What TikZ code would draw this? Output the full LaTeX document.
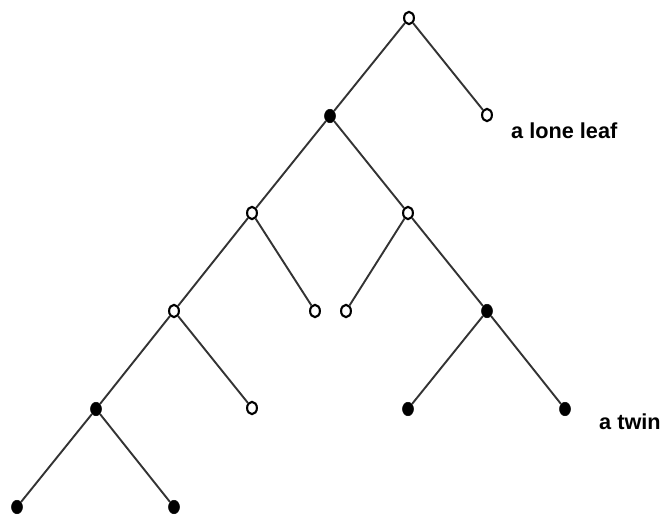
\documentclass[tikz,border=0pt]{standalone}
\usepackage{fontspec}
\setmainfont{Liberation Sans}
\usetikzlibrary{shapes.geometric}
\tikzset{
  open/.style={ellipse, draw=black, fill=white, line width=2.1pt, minimum width=9.8pt, minimum height=12.3pt, inner sep=0pt},
  full/.style={ellipse, draw=black, fill=black, line width=0.5pt, minimum width=11pt, minimum height=13.5pt, inner sep=0pt},
  edge/.style={line width=1.9pt, draw=black!80},
  lab/.style={anchor=base west, inner sep=0pt, font=\fontsize{21.7}{26}\selectfont\bfseries}
}
\begin{document}
\begin{tikzpicture}[x=1pt,y=-1pt]
\useasboundingbox (0,0) rectangle (665,519);
\node[open] (r) at (409,18) {};
\node[open] (ll) at (487,115) {};
\node[full] (a) at (330,116) {};
\node[open] (b) at (252,213) {};
\node[open] (c) at (408,213) {};
\node[open] (d) at (174,311) {};
\node[open] (e) at (315,311) {};
\node[open] (f) at (346,311) {};
\node[full] (g) at (487,311) {};
\node[full] (h) at (96,409) {};
\node[open] (i) at (252,408) {};
\node[full] (j) at (408,409) {};
\node[full] (k) at (565,409) {};
\node[full] (m) at (17,507) {};
\node[full] (n) at (174,507) {};
\draw[edge] (r) -- (ll);
\draw[edge] (r) -- (a);
\draw[edge] (a) -- (b);
\draw[edge] (a) -- (c);
\draw[edge] (b) -- (d);
\draw[edge] (b) -- (e);
\draw[edge] (c) -- (f);
\draw[edge] (c) -- (g);
\draw[edge] (d) -- (h);
\draw[edge] (d) -- (i);
\draw[edge] (g) -- (j);
\draw[edge] (g) -- (k);
\draw[edge] (h) -- (m);
\draw[edge] (h) -- (n);
\node[lab] (t1) at (511,139) {a lone leaf};
\node[lab] (t2) at (599,429) {a twin};
\end{tikzpicture}
\end{document}
